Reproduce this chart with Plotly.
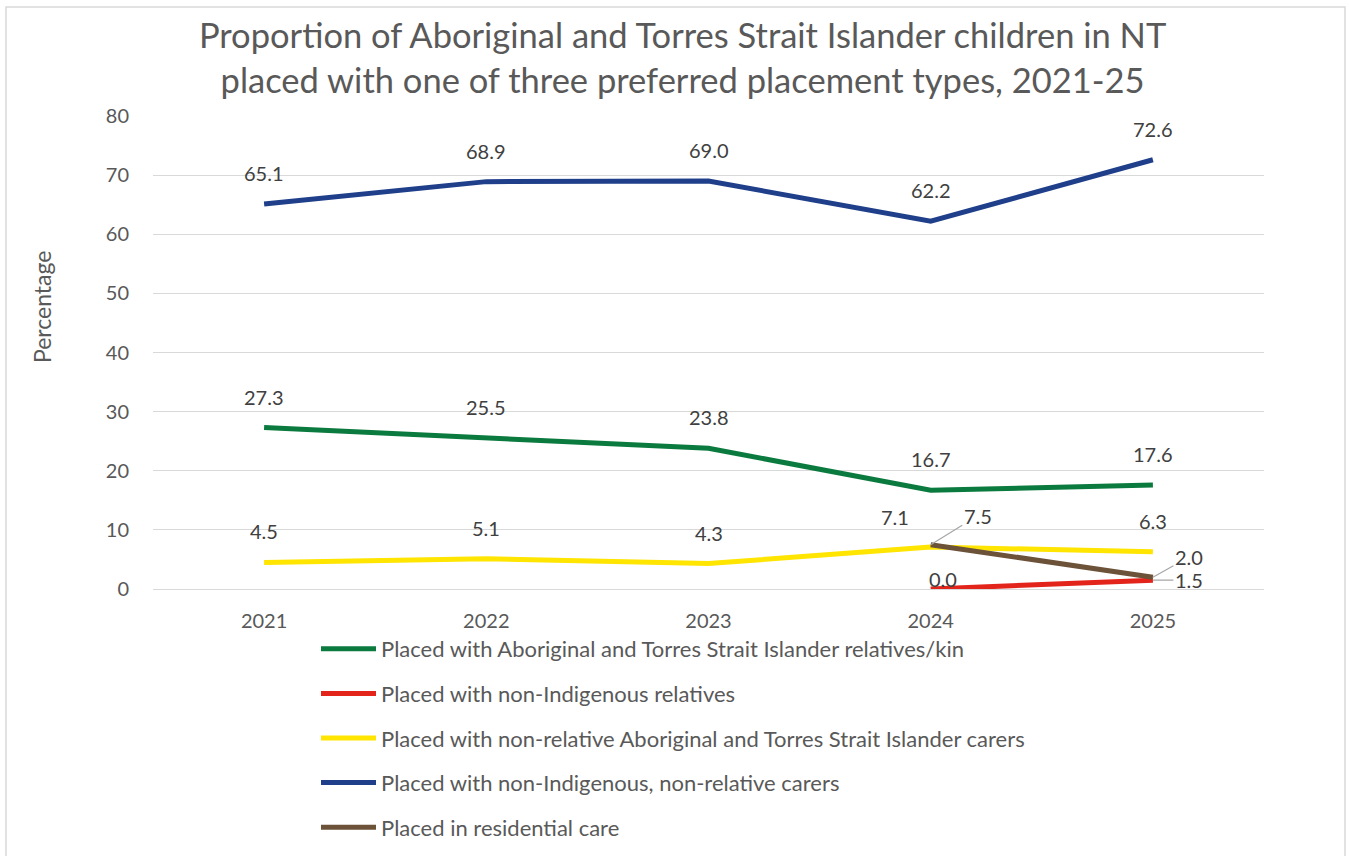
import plotly.graph_objects as go

years = ["2021", "2022", "2023", "2024", "2025"]
series_names = [
    "Placed with Aboriginal and Torres Strait Islander relatives/kin",
    "Placed with non-Indigenous relatives",
    "Placed with non-relative Aboriginal and Torres Strait Islander carers",
    "Placed with non-Indigenous, non-relative carers",
    "Placed in residential care",
]
kin = [27.3, 25.5, 23.8, 16.7, 17.6]
non_ind_rel = [None, None, None, 0.0, 1.5]
non_rel_atsi = [4.5, 5.1, 4.3, 7.1, 6.3]
non_ind_non_rel = [65.1, 68.9, 69.0, 62.2, 72.6]
residential = [None, None, None, 7.5, 2.0]

series_values = [kin, non_ind_rel, non_rel_atsi, non_ind_non_rel, residential]
colors = ["#0B7A3E", "#E3241B", "#FFE500", "#1F3F8A", "#6B5238"]

FONT = "Lato"
GREY = "#595959"
LABEL = "#404040"

fig = go.Figure()
for i, (name, vals, col) in enumerate(zip(series_names, series_values, colors)):
    fig.add_trace(go.Scatter(
        x=years, y=vals, name=name, mode="lines",
        line=dict(color=col, width=5),
        legendgroup=f"g{i}", connectgaps=False,
    ))

# data labels
annotations = []
special = {
    (2, 3): dict(xshift=-36, yshift=30),   # 7.1
    (1, 3): dict(xshift=12, yshift=10),    # 0.0
}
leader = {
    (4, 3): dict(ax=47, ay=-29),   # 7.5
    (4, 4): dict(ax=36, ay=-20),   # 2.0
    (1, 4): dict(ax=36, ay=0),     # 1.5
}
for si, vals in enumerate(series_values):
    for xi, v in enumerate(vals):
        if v is None:
            continue
        txt = f"{v:.1f}"
        if (si, xi) in leader:
            annotations.append(dict(
                x=xi, y=v, xref="x", yref="y", text=txt,
                showarrow=True, arrowhead=0, arrowwidth=1.2, arrowcolor="#A6A6A6",
                standoff=0, startstandoff=0,
                font=dict(family=FONT, size=20, color=LABEL),
                **leader[(si, xi)],
            ))
        else:
            sh = special.get((si, xi), dict(xshift=0, yshift=31))
            annotations.append(dict(
                x=xi, y=v, xref="x", yref="y", text=txt,
                showarrow=False,
                font=dict(family=FONT, size=20, color=LABEL),
                **sh,
            ))

annotations.append(dict(
    text="Percentage", textangle=-90, x=(26 - 153) / 1111, y=(589 - 307) / 473,
    xref="paper", yref="paper", showarrow=False,
    font=dict(family=FONT, size=23, color=GREY),
))

fig.update_layout(
    width=1349, height=856,
    margin=dict(l=153, r=85, t=116, b=267, autoexpand=False),
    paper_bgcolor="white", plot_bgcolor="white",
    title=dict(
        text="Proportion of Aboriginal and Torres Strait Islander children in NT<br>placed with one of three preferred placement types, 2021-25",
        x=0.506, xref="container", xanchor="center",
        y=1 - 48 / 856, yref="container", yanchor="top",
        font=dict(family=FONT, size=34.5, color=GREY),
    ),
    font=dict(family=FONT, color=GREY),
    xaxis=dict(
        type="category", range=[-0.5, 4.5], showgrid=False, showline=False,
        zeroline=False, ticks="", tickfont=dict(family=FONT, size=20, color=GREY),
        ticklabelstandoff=18,
    ),
    yaxis=dict(
        range=[0, 80], dtick=10, showgrid=True, gridcolor="#D9D9D9", gridwidth=1,
        zeroline=True, zerolinecolor="#D9D9D9", zerolinewidth=1,
        showline=False, ticks="", tickfont=dict(family=FONT, size=20, color=GREY),
        ticklabelstandoff=23,
    ),
    legend=dict(
        orientation="v", x=(316 - 153) / 1111, xanchor="left",
        y=-0.0825, yanchor="top", tracegroupgap=13,
        font=dict(family=FONT, size=22, color=GREY),
        bgcolor="rgba(0,0,0,0)", itemwidth=55,
    ),
    annotations=annotations,
    shapes=[dict(
        type="rect", xref="paper", yref="paper",
        x0=(6 - 153) / 1111, x1=(1345 - 153) / 1111,
        y0=(589 - 870) / 473, y1=(589 - 7) / 473,
        line=dict(color="#D9D9D9", width=1.5), fillcolor="rgba(0,0,0,0)",
        layer="below",
    )],
)

fig.write_html("out.html")
